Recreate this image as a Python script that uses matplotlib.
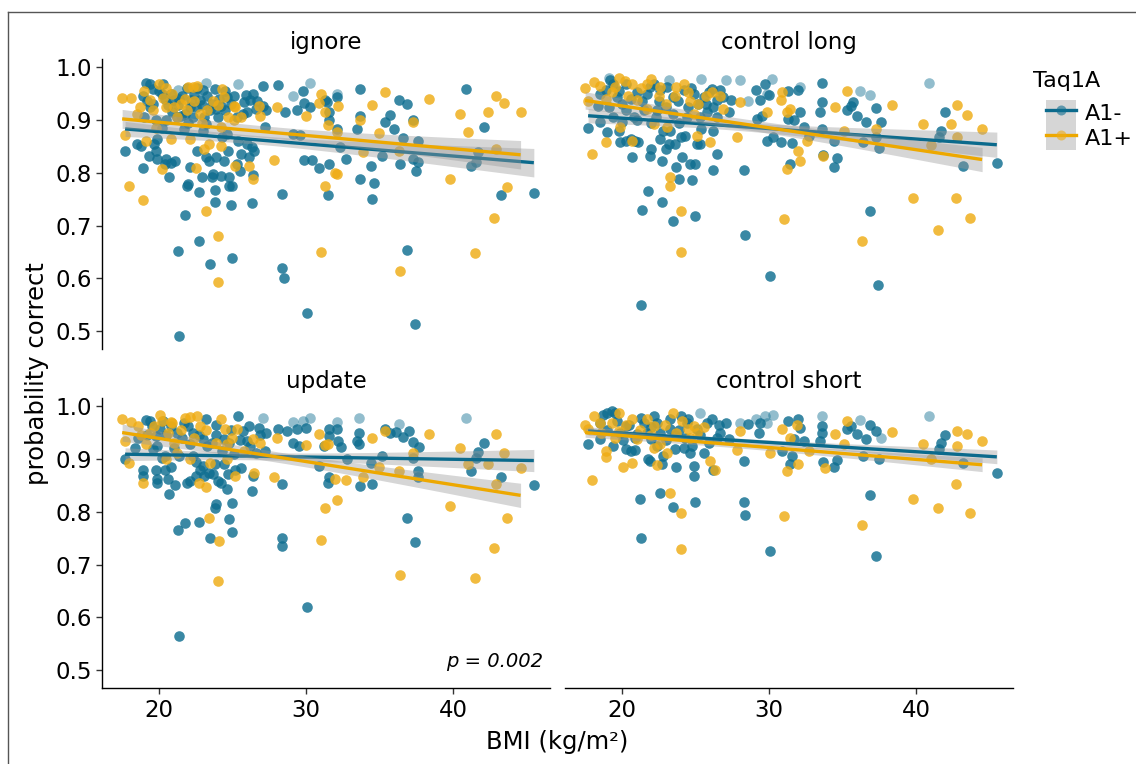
import numpy as np
import matplotlib
matplotlib.use("Agg")
import matplotlib.pyplot as plt
from matplotlib.lines import Line2D
from matplotlib.patches import Patch

plt.rcParams['font.family'] = ['DejaVu Sans']

# ---------------- data (BMI, probability correct) ----------------
panel_names = ["ignore", "control long", "update", "control short"]
group_labels = ["A1-", "A1+"]
legend_title = "Taq1A"
x_ticks = [20, 30, 40]
y_ticks = [0.5, 0.6, 0.7, 0.8, 0.9, 1.0]
p_label = "p = 0.002"

ignore_a1neg = [
    (28.1,0.966),(27.1,0.965),(28.6,0.915),(28.4,0.760),(28.4,0.620),(28.5,0.601),(29.4,0.918),(29.8,0.954),
    (29.9,0.932),(30.3,0.925),(29.1,0.874),(29.6,0.872),(29.9,0.824),(30.4,0.824),(30.1,0.535),(30.9,0.809),
    (31.3,0.937),(31.4,0.934),(31.6,0.915),(31.6,0.900),(32.1,0.943),(32.1,0.882),(31.6,0.817),(31.5,0.758),
    (32.7,0.826),(32.3,0.848),(33.5,0.882),(33.7,0.958),(33.7,0.908),(33.7,0.789),(34.4,0.813),(34.6,0.780),
    (34.5,0.751),(35.2,0.832),(35.4,0.896),(35.7,0.910),(36.0,0.882),(36.3,0.937),(36.9,0.930),(36.6,0.865),
    (36.4,0.817),(36.9,0.654),(37.3,0.899),(37.3,0.826),(37.6,0.861),(37.5,0.804),(37.6,0.820),(37.4,0.513),
    (40.9,0.958),(42.1,0.887),(41.7,0.839),(41.6,0.820),(41.2,0.812),(43.3,0.758),(45.5,0.761),
    (17.7,0.841),(18.5,0.855),(18.8,0.851),(18.9,0.809),(18.9,0.946),(19.1,0.970),(19.4,0.968),(19.3,0.832),
    (19.6,0.930),(19.7,0.855),(19.8,0.842),(19.9,0.864),(19.9,0.826),(20.2,0.949),(20.3,0.968),(20.4,0.817),
    (20.5,0.826),(20.7,0.792),(20.8,0.818),(21.1,0.823),(21.0,0.937),(21.3,0.652),(21.4,0.491),(21.4,0.940),
    (21.5,0.908),(21.8,0.720),(21.9,0.775),(22.0,0.778),(22.1,0.810),(22.2,0.937),(22.3,0.905),(22.6,0.842),
    (22.7,0.671),(22.7,0.763),(22.8,0.937),(22.9,0.791),(23.0,0.956),(23.1,0.905),(23.2,0.829),(23.4,0.823),
    (23.5,0.628),(23.6,0.791),(23.7,0.798),(23.8,0.744),(23.8,0.767),(23.9,0.921),(23.9,0.829),(24.0,0.905),
    (24.2,0.794),(24.4,0.823),(24.5,0.918),(24.6,0.943),(24.7,0.842),(24.8,0.791),(24.8,0.775),(24.9,0.739),
    (25.0,0.639),(25.0,0.775),(25.3,0.817),(25.5,0.804),(25.6,0.835),(25.7,0.912),(25.8,0.934),(26.0,0.855),
    (26.1,0.829),(26.2,0.937),(26.3,0.742),(26.3,0.848),(26.4,0.796),(26.5,0.842),(26.6,0.921),(27.1,0.927),
    (27.2,0.886),(27.3,0.918),(19.4,0.924),(19.8,0.899),(20.5,0.899),(21.2,0.905),(21.7,0.883),(22.1,0.924),
    (23.0,0.880),(23.5,0.918),(24.3,0.867),(24.6,0.874),(25.4,0.861),(20.0,0.955),(20.8,0.950),(21.6,0.945),
    (22.4,0.950),(23.3,0.945),(24.1,0.940),(19.2,0.935),(21.9,0.960),(23.8,0.958),(22.9,0.928),(20.6,0.928),
    (24.9,0.930),(25.9,0.948),(26.7,0.935),
    (19.0,0.905),(19.6,0.958),(20.4,0.940),(20.9,0.915),(21.3,0.928),(21.8,0.912),(22.5,0.925),(22.6,0.960),
    (23.2,0.893),(23.6,0.930),(24.2,0.926),(24.5,0.955),(25.1,0.945),(25.3,0.905),(26.0,0.915),(26.4,0.950),
    (20.2,0.885),(22.0,0.895),
]
ignore_a1neg_faded = [(30.3,0.970),(29.1,0.946),(32.1,0.949),(23.2,0.970),(25.4,0.968),(21.3,0.957)]
ignore_a1pos = [
    (27.8,0.824),(28.0,0.924),(30.0,0.907),(31.0,0.949),(30.9,0.932),(31.0,0.649),(31.3,0.916),(31.3,0.775),
    (31.5,0.891),(32.0,0.799),(32.1,0.797),(32.2,0.927),(32.1,0.877),(33.7,0.899),(33.9,0.839),(34.5,0.929),
    (35.0,0.875),(35.4,0.953),(36.3,0.842),(36.4,0.614),(37.3,0.896),(38.4,0.939),(39.8,0.789),(40.5,0.911),
    (41.0,0.878),(41.5,0.647),(42.4,0.915),(42.8,0.715),(42.9,0.946),(43.5,0.932),(42.9,0.845),(43.7,0.773),
    (44.6,0.915),
    (17.5,0.942),(17.7,0.872),(18.0,0.774),(18.1,0.942),(18.5,0.912),(18.7,0.924),(18.9,0.749),(19.1,0.861),
    (19.4,0.937),(20.0,0.968),(20.2,0.807),(20.5,0.961),(20.8,0.864),(20.9,0.949),(21.8,0.940),(22.0,0.962),
    (22.1,0.864),(22.5,0.809),(22.3,0.962),(22.6,0.965),(22.8,0.912),(23.1,0.845),(23.2,0.728),(23.4,0.855),
    (24.0,0.680),(24.0,0.593),(24.2,0.851),(24.3,0.959),(24.4,0.943),(25.2,0.813),(25.1,0.899),(25.2,0.924),
    (26.1,0.813),(26.4,0.788),(26.8,0.927),(26.9,0.908),(24.2,0.886),(21.2,0.905),(20.5,0.924),(25.1,0.927),
    (19.0,0.955),(21.5,0.930),(23.7,0.935),(22.9,0.895),(19.8,0.885),(24.7,0.905),
    (19.6,0.918),(20.3,0.942),(21.0,0.925),(21.9,0.918),(22.4,0.935),(23.3,0.918),(24.0,0.928),(25.6,0.905),
]

clong_a1neg = [
    (28.3,0.805),(28.4,0.682),(29.1,0.957),(29.4,0.937),(29.7,0.968),(30.0,0.948),(29.2,0.902),(29.5,0.908),
    (29.9,0.861),(30.3,0.868),(30.8,0.858),(31.6,0.856),(30.1,0.604),(31.3,0.954),(32.0,0.956),(31.3,0.901),
    (31.7,0.899),(32.1,0.915),(31.4,0.817),(32.4,0.886),(32.7,0.870),(33.6,0.970),(33.6,0.934),(33.5,0.915),
    (33.6,0.883),(33.7,0.834),(34.4,0.861),(34.6,0.827),(34.4,0.810),(35.3,0.919),(35.7,0.934),(35.6,0.927),
    (36.0,0.908),(36.6,0.897),(36.4,0.858),(36.9,0.727),(37.3,0.923),(37.6,0.897),(37.3,0.867),(37.5,0.846),
    (37.4,0.588),(42.0,0.916),(41.7,0.880),(41.6,0.867),(43.2,0.813),(45.5,0.818),
    (17.7,0.885),(18.4,0.927),(18.5,0.896),(18.9,0.956),(19.0,0.877),(19.2,0.975),(19.4,0.968),(19.7,0.943),
    (19.8,0.880),(19.9,0.858),(20.0,0.896),(20.3,0.861),(20.7,0.829),(20.6,0.864),(20.9,0.861),(21.1,0.858),
    (21.4,0.730),(21.3,0.550),(21.8,0.766),(21.9,0.832),(22.0,0.845),(22.3,0.905),(22.6,0.864),(22.7,0.745),
    (22.7,0.823),(22.8,0.880),(23.0,0.845),(23.2,0.855),(23.3,0.880),(23.5,0.709),(23.6,0.855),(23.7,0.810),
    (23.9,0.788),(24.0,0.867),(24.1,0.830),(24.3,0.870),(24.6,0.817),(24.8,0.786),(25.0,0.817),(25.0,0.718),
    (25.1,0.855),(25.3,0.855),(25.4,0.883),(25.7,0.930),(25.9,0.953),(26.1,0.959),(26.2,0.880),(26.2,0.805),
    (26.5,0.835),(26.5,0.937),(26.7,0.956),(26.9,0.943),(27.3,0.915),(27.4,0.937),(18.5,0.949),(20.3,0.968),
    (21.0,0.953),(21.7,0.949),(22.2,0.968),(22.6,0.956),(23.1,0.962),(23.5,0.943),(24.2,0.956),(24.9,0.949),
    (25.6,0.943),(21.5,0.918),(22.4,0.918),(23.5,0.912),(24.4,0.905),(25.3,0.905),(26.5,0.905),(19.4,0.905),
    (20.3,0.918),(21.0,0.899),
    (19.1,0.925),(19.8,0.955),(20.6,0.940),(20.8,0.905),(21.4,0.935),(21.9,0.962),(22.5,0.935),(23.0,0.925),
    (23.8,0.935),(24.5,0.925),(24.7,0.960),(25.2,0.930),(25.8,0.915),(26.2,0.925),(20.0,0.930),(22.0,0.895),
    (23.9,0.895),
]
clong_a1neg_faded = [(28.0,0.976),(27.1,0.976),(25.4,0.978),(28.6,0.935),(29.9,0.949),(30.2,0.978),
                     (32.1,0.963),(36.2,0.954),(36.9,0.948),(40.9,0.970),(19.1,0.980),(23.2,0.976)]
clong_a1pos = [
    (27.8,0.867),(28.0,0.934),(29.9,0.915),(30.9,0.953),(30.8,0.937),(31.2,0.915),(31.4,0.921),(32.0,0.842),
    (32.1,0.823),(31.2,0.807),(31.0,0.712),(32.6,0.861),(33.7,0.832),(34.5,0.925),(35.3,0.954),(35.1,0.880),
    (36.3,0.671),(37.3,0.883),(38.4,0.929),(39.8,0.753),(40.5,0.892),(41.0,0.853),(41.5,0.692),(42.4,0.892),
    (42.7,0.753),(42.8,0.929),(43.5,0.910),(42.8,0.868),(43.7,0.714),(44.5,0.883),
    (17.5,0.961),(17.7,0.935),(18.0,0.835),(18.1,0.972),(18.5,0.965),(18.9,0.858),(19.3,0.953),(19.8,0.980),
    (20.2,0.973),(20.7,0.968),(20.7,0.861),(21.7,0.968),(22.0,0.978),(22.2,0.892),(22.6,0.962),(23.0,0.930),
    (23.1,0.886),(23.3,0.792),(23.3,0.775),(23.6,0.946),(24.0,0.728),(24.0,0.649),(24.2,0.968),(24.5,0.953),
    (25.1,0.870),(25.2,0.930),(26.0,0.859),(26.1,0.953),(26.7,0.946),(26.9,0.921),(21.0,0.937),(19.9,0.886),
    (21.7,0.921),(24.9,0.912),
    (18.9,0.940),(19.5,0.962),(20.4,0.945),(21.3,0.960),(22.5,0.945),(23.7,0.962),(24.6,0.935),(25.7,0.945),
]

update_a1neg = [
    (28.1,0.956),(28.7,0.953),(28.4,0.852),(28.4,0.750),(28.4,0.736),(29.1,0.931),(29.5,0.925),(29.4,0.956),
    (30.0,0.959),(30.1,0.619),(30.9,0.887),(31.2,0.925),(31.6,0.957),(31.6,0.943),(32.1,0.956),(32.2,0.934),
    (32.4,0.923),(31.5,0.855),(31.6,0.865),(32.8,0.899),(33.6,0.950),(33.5,0.934),(33.6,0.928),(33.7,0.848),
    (34.5,0.853),(34.4,0.892),(35.2,0.906),(35.4,0.956),(35.7,0.950),(36.1,0.951),(36.6,0.942),(37.0,0.953),
    (37.3,0.932),(37.7,0.923),(37.3,0.902),(37.6,0.877),(37.6,0.865),(36.9,0.788),(37.4,0.743),(42.1,0.930),
    (41.7,0.913),(41.6,0.902),(41.2,0.877),(43.3,0.865),(45.5,0.850),
    (17.7,0.899),(18.4,0.921),(18.6,0.940),(18.9,0.880),(18.9,0.868),(19.1,0.974),(19.4,0.972),(19.5,0.962),
    (19.6,0.918),(19.8,0.880),(19.9,0.862),(19.9,0.855),(20.2,0.902),(20.3,0.972),(20.4,0.880),(20.6,0.862),
    (20.8,0.884),(20.7,0.833),(21.1,0.850),(21.3,0.766),(21.4,0.564),(21.8,0.779),(21.9,0.855),(22.1,0.858),
    (22.3,0.906),(22.5,0.868),(22.7,0.780),(22.8,0.880),(23.0,0.887),(23.1,0.868),(23.2,0.975),(23.4,0.874),
    (23.5,0.750),(23.7,0.871),(23.8,0.808),(23.9,0.814),(24.0,0.858),(24.2,0.855),(24.4,0.890),(24.6,0.844),
    (24.7,0.871),(24.8,0.786),(25.0,0.761),(25.0,0.816),(25.2,0.880),(25.4,0.981),(25.6,0.882),(25.7,0.953),
    (26.0,0.934),(26.1,0.962),(26.3,0.840),(26.4,0.868),(26.6,0.912),(26.8,0.959),(27.2,0.915),(27.3,0.950),
    (24.8,0.931),(24.4,0.937),(23.6,0.931),(23.0,0.937),(22.1,0.928),(21.2,0.950),(20.8,0.962),(20.1,0.956),
    (19.8,0.943),(21.7,0.969),(22.3,0.950),(23.9,0.965),(25.1,0.909),(21.4,0.906),
    (19.2,0.945),(19.9,0.925),(20.5,0.945),(21.0,0.920),(21.6,0.940),(22.0,0.962),(22.7,0.945),(23.3,0.925),
    (23.9,0.945),(24.3,0.915),(24.9,0.955),(25.5,0.935),(26.2,0.925),(26.9,0.945),(20.4,0.905),(22.5,0.895),
    (23.8,0.890),
]
update_a1neg_faded = [(29.1,0.970),(29.8,0.972),(30.3,0.978),(32.1,0.970),(33.6,0.977),(36.3,0.967),
                      (40.9,0.977),(27.1,0.978)]
update_a1pos = [
    (27.8,0.866),(28.0,0.940),(30.0,0.926),(30.9,0.947),(31.3,0.926),(31.5,0.928),(31.3,0.807),(31.0,0.747),
    (32.1,0.822),(32.0,0.862),(32.7,0.860),(33.9,0.865),(34.5,0.940),(35.0,0.884),(35.4,0.953),(36.3,0.877),
    (36.4,0.681),(37.3,0.912),(38.4,0.947),(39.8,0.810),(40.5,0.920),(41.0,0.890),(41.5,0.675),(42.4,0.890),
    (42.8,0.732),(42.9,0.948),(42.9,0.853),(43.5,0.911),(43.7,0.788),(44.6,0.882),
    (17.5,0.975),(17.7,0.934),(18.0,0.893),(18.1,0.970),(18.6,0.962),(18.9,0.854),(19.1,0.928),(20.1,0.984),
    (20.2,0.972),(20.5,0.899),(20.8,0.970),(20.9,0.969),(21.8,0.978),(22.1,0.980),(22.6,0.981),(22.7,0.855),
    (22.8,0.962),(23.2,0.846),(23.4,0.789),(24.1,0.745),(24.0,0.668),(24.2,0.976),(24.5,0.956),(24.6,0.928),
    (25.2,0.868),(25.3,0.956),(26.5,0.874),(26.9,0.931),(26.4,0.938),(21.2,0.912),(22.1,0.899),(23.5,0.893),
    (19.4,0.950),(21.0,0.931),(24.6,0.899),
    (18.8,0.945),(19.7,0.962),(20.6,0.950),(21.5,0.955),(22.4,0.940),(23.2,0.955),(23.9,0.930),(25.0,0.940),
    (25.8,0.915),
]

cshort_a1neg = [
    (28.3,0.896),(28.3,0.819),(28.4,0.794),(28.6,0.967),(29.3,0.950),(29.4,0.969),(30.1,0.726),(31.3,0.972),
    (32.0,0.976),(31.7,0.937),(32.1,0.959),(32.4,0.934),(31.4,0.890),(31.6,0.906),(30.9,0.915),(33.6,0.962),
    (33.6,0.950),(33.7,0.894),(34.4,0.885),(34.6,0.898),(33.5,0.934),(35.3,0.956),(35.6,0.962),(36.0,0.947),
    (36.6,0.937),(36.9,0.965),(37.3,0.953),(36.4,0.906),(36.9,0.831),(37.3,0.717),(37.5,0.899),(42.0,0.945),
    (41.7,0.931),(41.6,0.918),(43.2,0.892),(45.5,0.873),
    (17.7,0.928),(18.5,0.937),(18.7,0.984),(19.0,0.987),(19.3,0.991),(19.5,0.987),(19.4,0.925),(19.9,0.950),
    (20.3,0.918),(20.6,0.915),(20.9,0.917),(21.2,0.824),(21.3,0.751),(21.8,0.899),(21.9,0.896),(22.0,0.937),
    (22.6,0.836),(22.7,0.890),(22.8,0.906),(23.5,0.809),(23.6,0.918),(23.7,0.884),(24.0,0.981),(24.2,0.921),
    (24.3,0.940),(24.6,0.912),(24.9,0.887),(25.0,0.818),(24.9,0.868),(25.1,0.956),(25.6,0.912),(25.8,0.969),
    (26.1,0.975),(26.2,0.880),(26.5,0.940),(26.7,0.950),(27.1,0.969),(27.3,0.937),(20.3,0.962),(21.5,0.969),
    (22.4,0.969),(23.3,0.956),(22.2,0.981),(23.3,0.975),(24.4,0.969),(21.0,0.947),(21.7,0.950),(18.5,0.969),
    (19.0,0.955),(19.7,0.972),(20.5,0.965),(20.9,0.940),(21.3,0.978),(22.0,0.960),(22.6,0.950),(23.0,0.935),
    (23.9,0.955),(24.5,0.975),(25.3,0.945),(25.9,0.930),(26.6,0.965),(20.1,0.935),(22.4,0.925),(23.6,0.945),
    (24.8,0.925),
]
cshort_a1neg_faded = [(28.0,0.969),(29.1,0.976),(29.7,0.981),(29.9,0.969),(30.3,0.984),(33.6,0.982),
                      (36.2,0.974),(37.6,0.940),(40.9,0.982),(25.3,0.987)]
cshort_a1pos = [
    (27.8,0.917),(28.0,0.953),(30.1,0.912),(31.0,0.792),(31.2,0.877),(30.9,0.956),(31.4,0.940),(32.0,0.890),
    (31.9,0.965),(32.7,0.915),(33.8,0.882),(34.5,0.948),(35.3,0.972),(35.1,0.928),(36.3,0.775),(38.4,0.952),
    (39.8,0.825),(40.5,0.928),(41.0,0.899),(41.5,0.807),(42.7,0.852),(42.8,0.953),(43.5,0.948),(42.8,0.925),
    (43.7,0.797),(44.5,0.934),
    (17.5,0.965),(17.7,0.956),(18.0,0.860),(18.1,0.981),(18.5,0.969),(18.9,0.904),(18.9,0.915),(19.3,0.969),
    (19.8,0.953),(20.1,0.885),(20.7,0.892),(20.7,0.976),(21.7,0.975),(22.2,0.921),(22.4,0.888),(22.6,0.928),
    (23.1,0.912),(23.3,0.835),(24.0,0.797),(24.0,0.730),(24.1,0.972),(24.5,0.956),(25.1,0.950),(26.0,0.896),
    (26.3,0.879),(21.0,0.937),(19.8,0.987),(23.5,0.987),(24.9,0.962),(22.2,0.962),
    (18.6,0.950),(19.5,0.940),(20.3,0.965),(21.2,0.955),(22.0,0.945),(22.9,0.965),(23.7,0.950),(24.6,0.940),
    (25.6,0.960),
]

# linear trends: fitted value at the group's lowest and highest BMI,
# and the half-width of the 95% band at the highest BMI
ignore_fit_a1neg = [0.883, 0.819]
ignore_fit_a1pos = [0.902, 0.834]
clong_fit_a1neg = [0.908, 0.853]
clong_fit_a1pos = [0.937, 0.825]
update_fit_a1neg = [0.909, 0.897]
update_fit_a1pos = [0.950, 0.831]
cshort_fit_a1neg = [0.953, 0.904]
cshort_fit_a1pos = [0.950, 0.889]
band_at_max_a1neg = [0.027, 0.024, 0.021, 0.013]
band_at_max_a1pos = [0.027, 0.023, 0.023, 0.013]

panels = [
    (ignore_a1neg, ignore_a1neg_faded, ignore_a1pos, ignore_fit_a1neg, ignore_fit_a1pos),
    (clong_a1neg, clong_a1neg_faded, clong_a1pos, clong_fit_a1neg, clong_fit_a1pos),
    (update_a1neg, update_a1neg_faded, update_a1pos, update_fit_a1neg, update_fit_a1pos),
    (cshort_a1neg, cshort_a1neg_faded, cshort_a1pos, cshort_fit_a1neg, cshort_fit_a1pos),
]

# ---------------- style ----------------
TEAL_PT = "#0F6E90"
TEAL_LN = "#0B6A8C"
GOLD_PT = "#EFAC14"
GOLD_LN = "#EDA800"
RIBBON = "#999999"
PT_SIZE = 58
PT_ALPHA = 0.82

W, H = 1136, 764
fig = plt.figure(figsize=(W / 100, H / 100), dpi=100)


def fx(px):
    return px / W


def fy(py):
    return 1 - py / H


col_left = [102, 565]
col_w = 448
row_top = [59, 398]
row_h = 290

xlim = (16.13, 46.6)
ylim = (0.466, 1.0155)


def smooth(pts, fit, band_max, faded=None):
    arr = np.array(pts)
    if faded:
        arr = np.vstack([arr, np.array(faded)])
    x = arr[:, 0]
    x0, x1 = x.min(), x.max()
    slope = (fit[1] - fit[0]) / (x1 - x0)
    xs = np.linspace(x0, x1, 80)
    yfit = fit[0] + slope * (xs - x0)
    n = len(x)
    sxx = np.sum((x - x.mean()) ** 2)
    shape = np.sqrt(1.0 / n + (xs - x.mean()) ** 2 / sxx)
    half = band_max * shape / shape[-1]
    return xs, yfit, half


for i, (name, (neg, negf, pos, fneg, fpos)) in enumerate(zip(panel_names, panels)):
    r, c = divmod(i, 2)
    ax = fig.add_axes([fx(col_left[c]), fy(row_top[r] + row_h), col_w / W, row_h / H])
    ax.set_xlim(*xlim)
    ax.set_ylim(*ylim)

    an = np.array(neg)
    ap = np.array(pos)
    af = np.array(negf)
    ax.scatter(af[:, 0], af[:, 1], s=PT_SIZE, color=TEAL_PT, alpha=0.45, linewidths=0, zorder=2)
    ax.scatter(an[:, 0], an[:, 1], s=PT_SIZE, color=TEAL_PT, alpha=PT_ALPHA, linewidths=0, zorder=2)
    ax.scatter(ap[:, 0], ap[:, 1], s=PT_SIZE, color=GOLD_PT, alpha=PT_ALPHA, linewidths=0, zorder=2)

    z = 3
    for pts, faded, fit, bm, lc in [(neg, negf, fneg, band_at_max_a1neg[i], TEAL_LN),
                                    (pos, None, fpos, band_at_max_a1pos[i], GOLD_LN)]:
        xs, yf, half = smooth(pts, fit, bm, faded)
        ax.fill_between(xs, yf - half, yf + half, color=RIBBON, alpha=0.4, linewidth=0, zorder=z)
        ax.plot(xs, yf, color=lc, lw=2.4, zorder=z + 0.5, solid_capstyle='butt')
        z += 1

    ax.set_title(name, fontsize=16.5, pad=7.5, color='black')

    for sp in ['top', 'right']:
        ax.spines[sp].set_visible(False)
    left_on = (c == 0)
    bottom_on = (r == 1)
    ax.spines['left'].set_visible(left_on)
    ax.spines['bottom'].set_visible(bottom_on)
    for sp in ['left', 'bottom']:
        ax.spines[sp].set_linewidth(1.0)
        ax.spines[sp].set_color('black')
    ax.set_xticks(x_ticks)
    ax.set_yticks(y_ticks)
    ax.set_yticklabels([f"{v:.1f}" for v in y_ticks])
    ax.tick_params(axis='y', left=left_on, labelleft=left_on, labelsize=16.5,
                   length=4, width=1, color='#333333', pad=3.5, labelcolor='black')
    ax.tick_params(axis='x', bottom=bottom_on, labelbottom=bottom_on, labelsize=16.5,
                   length=4, width=1, color='#333333', pad=4, labelcolor='black')
    ax.patch.set_alpha(0)

    if name == "update":
        ax.text(0.985, 0.09, p_label, transform=ax.transAxes, ha='right', va='center',
                fontsize=14, style='italic', color='black')

# axis titles
fig.text(fx(37), fy(374), "probability correct", rotation=90, ha='center', va='center', fontsize=17.5)
fig.text(fx(557), fy(742), "BMI (kg/m\u00b2)", ha='center', va='center', fontsize=17.5)

# legend
fig.text(fx(1033), fy(81), legend_title, ha='left', va='center', fontsize=16)
handles = []
for pc, lc in [(TEAL_PT, TEAL_LN), (GOLD_PT, GOLD_LN)]:
    bg = Patch(facecolor=RIBBON, alpha=0.4, edgecolor='none')
    ln = Line2D([0], [0], color=lc, lw=2.4)
    mk = Line2D([0], [0], color=pc, marker='o', markersize=7.2, linestyle='none', alpha=0.6,
                markeredgewidth=0)
    handles.append((bg, ln, mk))
fig.legend(handles, group_labels, loc='upper left', bbox_to_anchor=(fx(1046), fy(100)),
           frameon=False, fontsize=16, handlelength=1.35, handleheight=1.37, labelspacing=0.0,
           handletextpad=0.4, borderpad=0.0, borderaxespad=0.0)

# partial frame of the original figure
fig.add_artist(Line2D([fx(8), fx(8)], [0, fy(12)], transform=fig.transFigure, color='#555555', lw=1.0))
fig.add_artist(Line2D([fx(8), 1], [fy(12), fy(12)], transform=fig.transFigure, color='#555555', lw=1.0))

fig.savefig("out.png", dpi=100)
